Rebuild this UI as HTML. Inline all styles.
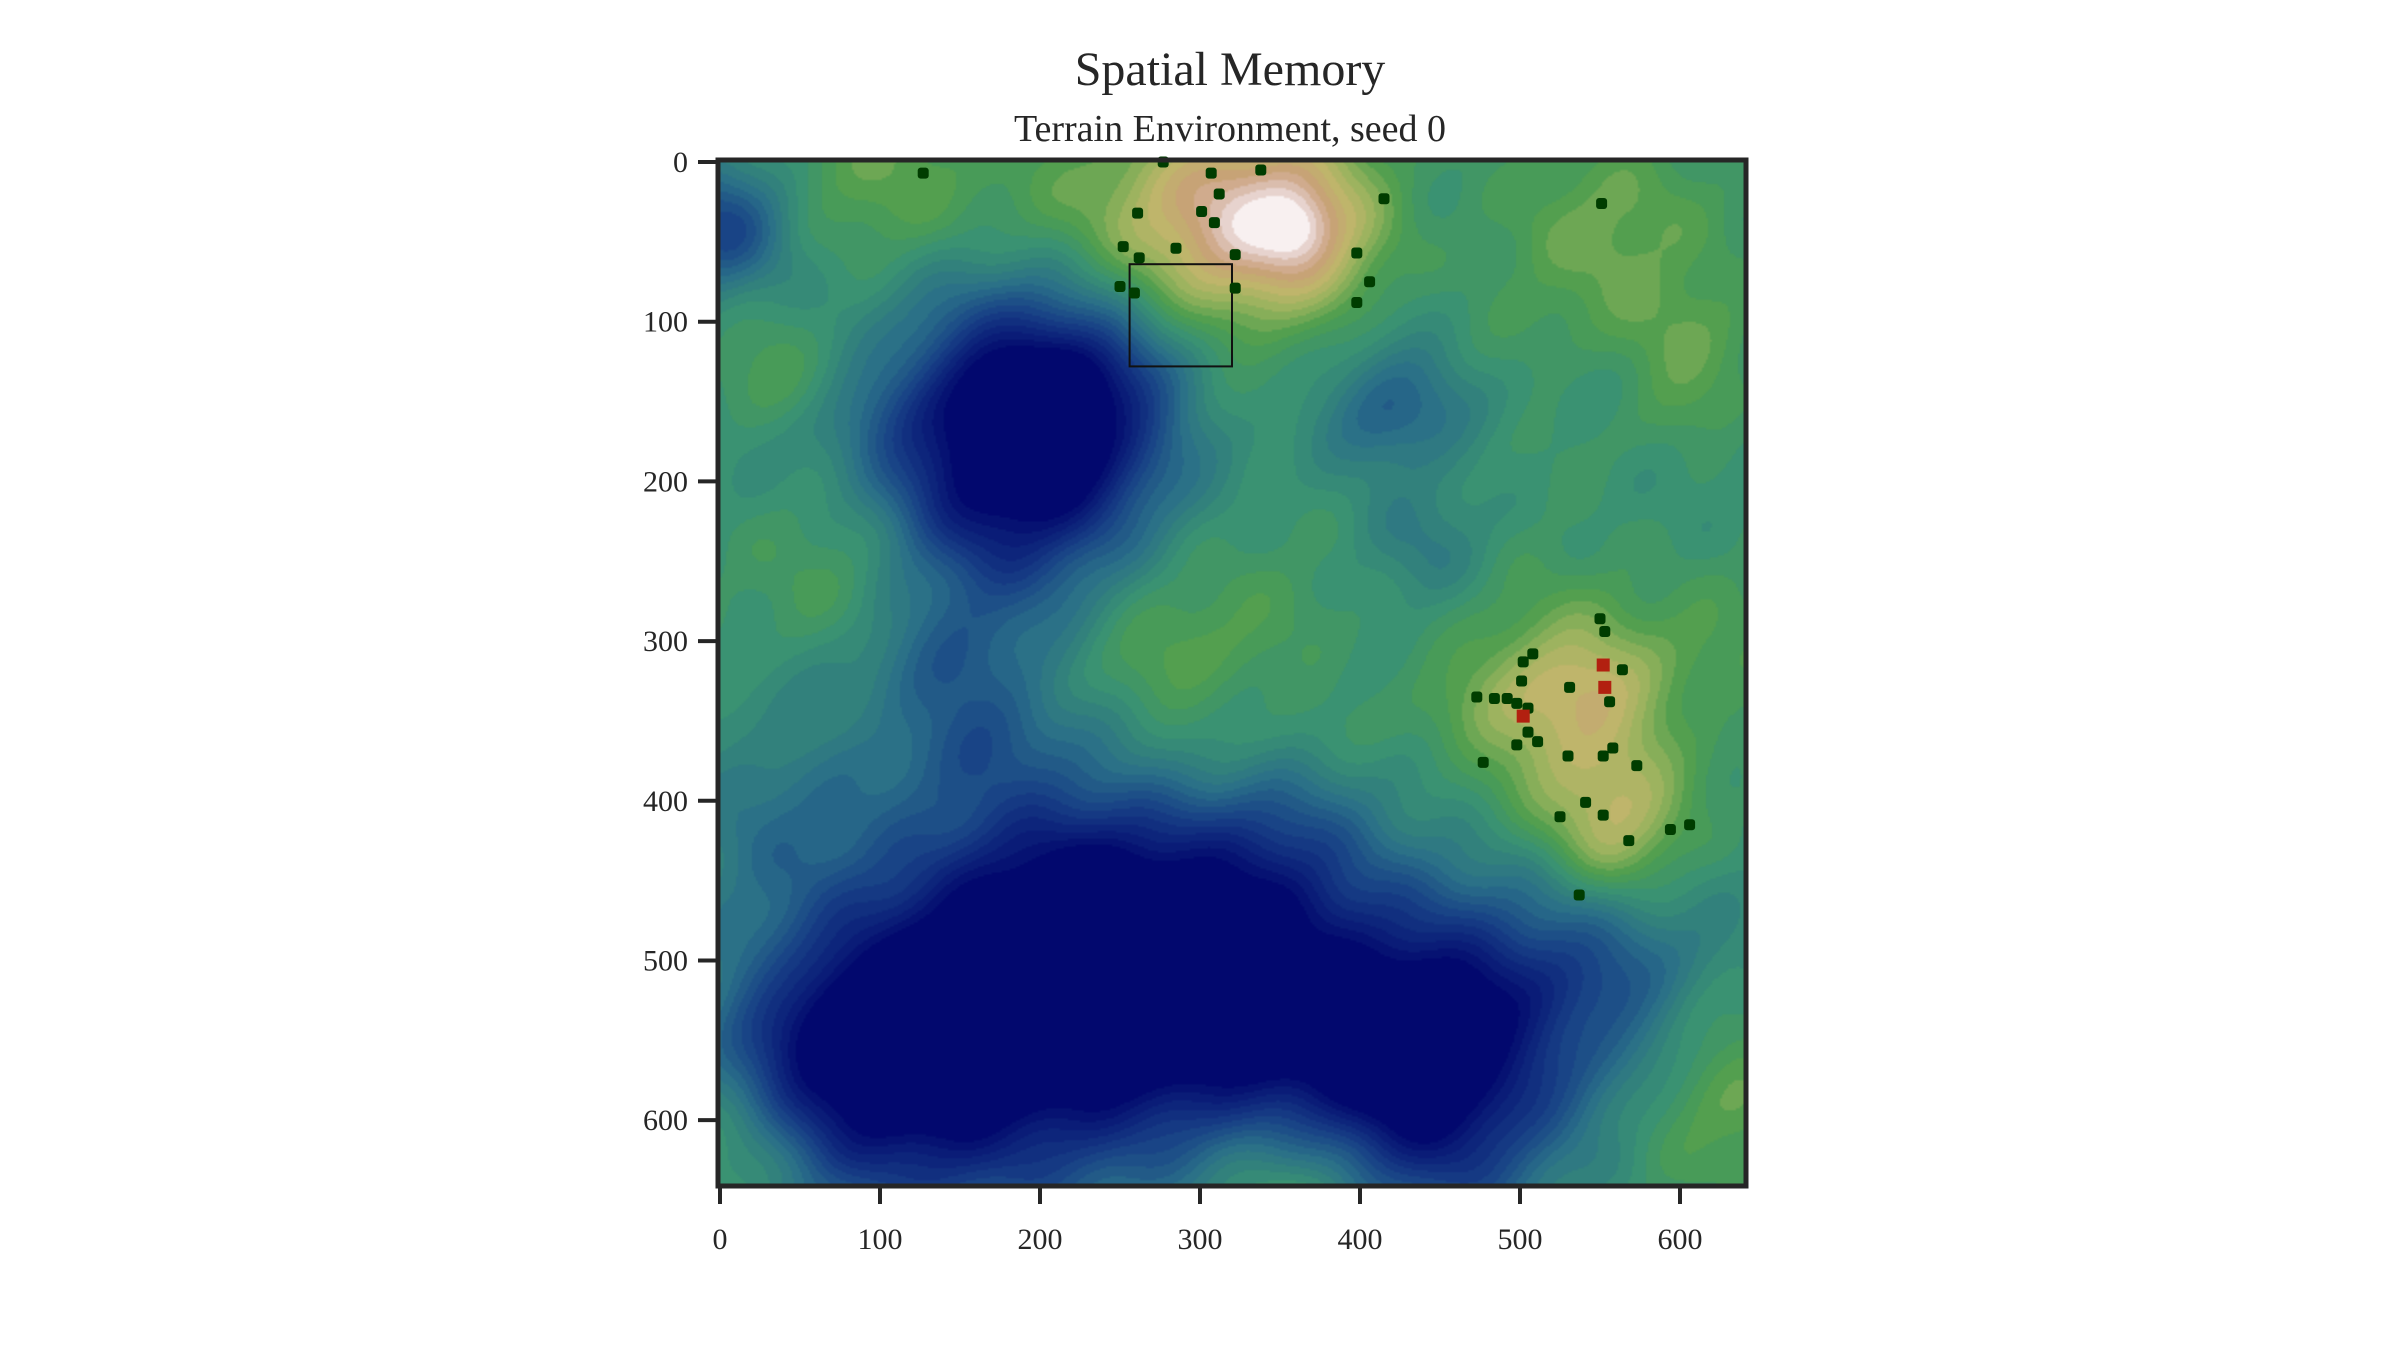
<!DOCTYPE html>
<html><head><meta charset="utf-8"><style>
html,body{margin:0;padding:0;background:#fff;}
#root{position:relative;width:2400px;height:1350px;overflow:hidden;font-family:"Liberation Serif","DejaVu Serif",serif;color:#262626;}
.t{position:absolute;white-space:nowrap;}
</style></head><body>
<div id="root">
<div class="t" style="left:0;width:2460px;text-align:center;top:42px;font-size:48px;">Spatial Memory</div>
<div class="t" style="left:0;width:2460px;text-align:center;top:107px;font-size:38px;">Terrain Environment, seed 0</div>
<canvas id="terrain" width="512" height="512" style="position:absolute;left:720px;top:162px;width:1024px;height:1022px;"></canvas>
<svg id="ov" width="2400" height="1350" style="position:absolute;left:0;top:0;"></svg>
</div>
<script>
// Data
const agentX=[127,277,307,338,312,261,301,309,252,285,262,322,250,259,322,415,398,406,398,551,550,553,564,502,508,501,531,473,484,492,498,505,556,505,511,498,530,552,558,573,477,541,552,525,568,594,606,537];
const agentY=[7,0,7,5,20,32,31,38,53,54,60,58,78,82,79,23,57,75,88,26,286,294,318,313,308,325,329,335,336,336,339,342,338,357,363,365,372,372,367,378,376,401,409,410,425,418,415,459];
const targetX=[552,553,502];
const targetY=[315,329,347];
const viewRect=[256,64,64,64];
const xTicks=[0,100,200,300,400,500,600];
const yTicks=[0,100,200,300,400,500,600];
// terrain features: x, y, sigma, amplitude
const blobX=[180,230,190,150,300,420,230,80,350,0,420,440,360,360,300,535,560,520,100,550,610,80,280,620,360,10,30,480,560,130,460,640,170,30,200,300];
const blobY=[190,150,120,540,520,560,460,560,430,40,150,240,40,40,40,345,420,330,15,40,120,250,310,580,640,620,120,520,520,330,620,300,340,400,30,20];
const blobS=[60,40,50,80,70,60,60,50,40,30,30,30,40,15,50,40,30,60,40,50,30,40,60,40,40,30,30,60,50,40,40,40,40,40,50,40];
const blobA=[-0.55,-0.2,-0.2,-0.55,-0.45,-0.5,-0.3,-0.3,-0.15,-0.3,-0.2,-0.12,0.33,0.1,0.2,0.2,0.22,0.12,0.12,0.14,0.12,0.1,0.12,0.15,0.2,0.1,0.08,-0.2,-0.15,-0.1,-0.1,0.05,-0.12,-0.1,0.1,0.08];

const X0=720,Y0=162,W=1024,H=1022,DMAX=640;
const sx=v=>X0+v*W/DMAX, sy=v=>Y0+v*H/DMAX;

const stops=[[0,[2,8,110]],[0.2,[23,63,134]],[0.35,[42,111,136]],[0.5,[58,146,114]],[0.6,[78,158,78]],[0.7,[150,178,92]],[0.78,[190,182,106]],[0.87,[201,160,120]],[0.95,[224,200,192]],[1,[248,240,240]]];
function cmap(v){v=Math.max(0,Math.min(1,v));for(let i=1;i<stops.length;i++){if(v<=stops[i][0]){const a=stops[i-1],b=stops[i],t=(v-a[0])/(b[0]-a[0]);return a[1].map((c,k)=>c+(b[1][k]-c)*t);}}return stops[stops.length-1][1];}
const cv=document.getElementById('terrain'),ctx=cv.getContext('2d'),img=ctx.createImageData(512,512);
for(let j=0;j<512;j++)for(let i=0;i<512;i++){
 const x=i*640/512,y=j*640/512;let v=0.5;
 for(let k=0;k<blobX.length;k++){const dx=x-blobX[k],dy=y-blobY[k];v+=blobA[k]*Math.exp(-(dx*dx+dy*dy)/(2*blobS[k]*blobS[k]));}
 v+=0.025*Math.sin(x/23+Math.cos(y/31))*Math.cos(y/19-x/41)+0.015*Math.sin(x/11+y/13);
 v=Math.round(v*28)/28;
 const c=cmap(v),p=(j*512+i)*4;img.data[p]=c[0];img.data[p+1]=c[1];img.data[p+2]=c[2];img.data[p+3]=255;}
ctx.putImageData(img,0,0);

const svg=document.getElementById('ov'),NS='http://www.w3.org/2000/svg';
function mk(t,a){const e=document.createElementNS(NS,t);for(const k in a)e.setAttribute(k,a[k]);svg.appendChild(e);return e;}
let e=mk('rect',{x:sx(viewRect[0]),y:sy(viewRect[1]),width:viewRect[2]*W/DMAX,height:viewRect[3]*H/DMAX,fill:'none',stroke:'#111',"stroke-width":2});


for(let i=0;i<agentX.length;i++){
 e=mk('rect',{x:sx(agentX[i])-5.5,y:sy(agentY[i])-5.5,width:11,height:11,rx:3,fill:'#003d00'});
 
 
}
for(let i=0;i<targetX.length;i++){
 e=mk('rect',{x:sx(targetX[i])-6.5,y:sy(targetY[i])-6.5,width:13,height:13,fill:'#b22010'});
 
 
}
e=mk('rect',{x:X0-2,y:Y0-2,width:W+4,height:H+4,fill:'none',stroke:'#262626',"stroke-width":5});


xTicks.forEach(v=>{
 e=mk('line',{x1:sx(v),x2:sx(v),y1:Y0+H+2,y2:Y0+H+20,stroke:'#262626',"stroke-width":4});
 
 
 e=mk('text',{x:sx(v),y:Y0+H+65,"text-anchor":'middle',"font-size":30,fill:'#262626',"font-family":'Liberation Serif, serif'});e.textContent=v;
 
 
});
yTicks.forEach(v=>{
 e=mk('line',{x1:X0-22,x2:X0-2,y1:sy(v),y2:sy(v),stroke:'#262626',"stroke-width":4});
 
 
 e=mk('text',{x:X0-32,y:sy(v)+10,"text-anchor":'end',"font-size":30,fill:'#262626',"font-family":'Liberation Serif, serif'});e.textContent=v;
 
 
});
</script>
</body></html>
